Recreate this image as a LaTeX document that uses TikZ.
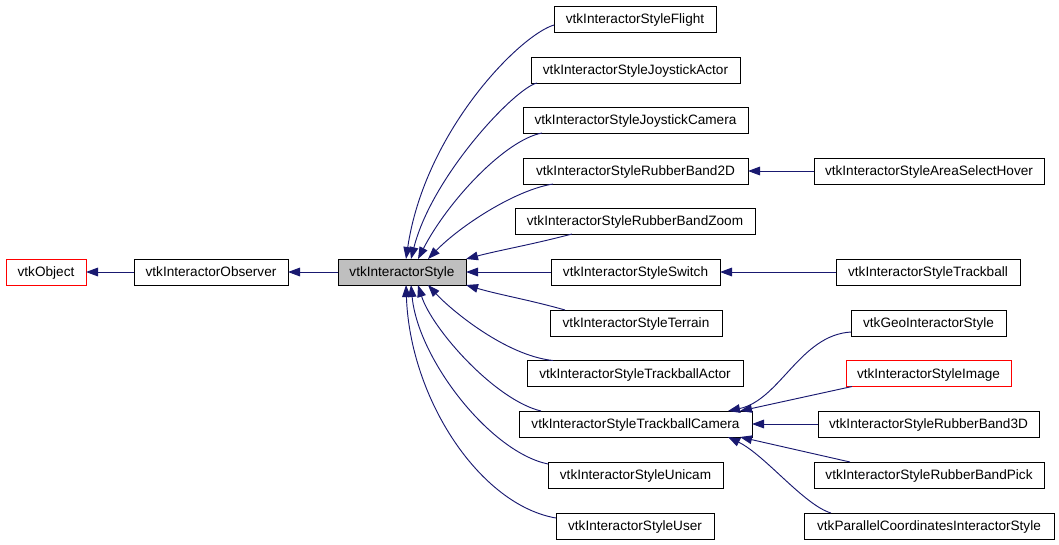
\documentclass[tikz,border=0pt]{standalone}
\usepackage{fontspec}
\setmainfont{Liberation Sans}
\usetikzlibrary{arrows.meta,calc}
\definecolor{edgeblue}{HTML}{191970}

\begin{document}
\begin{tikzpicture}[
    x=0.75pt,
    y=-0.75pt,
    font=\fontsize{10.2}{12}\selectfont,
    text centered,
    every node/.style={
      inner sep=0pt,
      outer sep=0pt,
      text height=7.3pt,
      text depth=0pt
    }
  ]

  \tikzstyle{cls} = [rectangle, draw, line width=0.7pt, minimum height=19.5pt]
  \tikzstyle{undoc} = [cls, draw=red]
  \tikzstyle{focus} = [cls, fill=gray!50]
  \tikzstyle{inherit} = [draw=edgeblue, line width=0.7pt, -{Triangle[length=9pt,width=6.5pt]}]

  \useasboundingbox (0,0) rectangle (1059,544);

  \node [undoc, minimum width=60pt] (object) at (46,272) {vtkObject};
  \node [cls, minimum width=115.5pt] (observer) at (211,272) {vtkInteractorObserver};
  \node [focus, minimum width=96pt] (style) at (402,272) {vtkInteractorStyle};

  \draw [inherit] (observer.west) -- (object.east);
  \draw [inherit] (style.west) -- (observer.east);

  \node [cls, minimum width=121.5pt] (flight) at (635,19) {vtkInteractorStyleFlight};
  \node [cls, minimum width=156.75pt] (joyactor) at (635.5,70) {vtkInteractorStyleJoystickActor};
  \node [cls, minimum width=168.75pt] (joycamera) at (635.5,120) {vtkInteractorStyleJoystickCamera};
  \node [cls, minimum width=168.75pt] (band2d) at (635.5,171) {vtkInteractorStyleRubberBand2D};
  \node [cls, minimum width=180pt] (bandzoom) at (635,221) {vtkInteractorStyleRubberBandZoom};
  \node [cls, minimum width=126.75pt] (switch) at (635.5,272) {vtkInteractorStyleSwitch};
  \node [cls, minimum width=129pt] (terrain) at (636,323) {vtkInteractorStyleTerrain};
  \node [cls, minimum width=162pt] (tbactor) at (635,373.5) {vtkInteractorStyleTrackballActor};
  \node [cls, minimum width=174.75pt] (tbcamera) at (635.5,424) {vtkInteractorStyleTrackballCamera};
  \node [cls, minimum width=131.25pt] (unicam) at (635.5,475) {vtkInteractorStyleUnicam};
  \node [cls, minimum width=118.5pt] (user) at (635,526) {vtkInteractorStyleUser};

  \draw [inherit] ($(flight.west)+(0,6)$) .. controls +(-34,10) and +(19,-128) .. ($(style.north)+(4,0)$);
  \draw [inherit] ($(joyactor.south west)+(6,0)$) .. controls +(-22,5) and +(21,-83) .. ($(style.north)+(9,0)$);
  \draw [inherit] ($(joycamera.south west)+(19,0)$) .. controls +(-37,7) and +(30,-58) .. ($(style.north)+(16,0)$);
  \draw [inherit] ($(band2d.south west)+(30,0)$) .. controls +(-38,6) and +(32,-33) .. ($(style.north)+(26,0)$);
  \draw [inherit] ($(bandzoom.south west)+(57,0)$) .. controls +(-42,11) and +(34,-9) .. (style.north east);
  \draw [inherit] (switch.west) -- (style.east);
  \draw [inherit] ($(terrain.north west)+(15,0)$) .. controls +(-35,-10) and +(34,10) .. (style.south east);
  \draw [inherit] ($(tbactor.north west)+(26,0)$) .. controls +(-48,-5) and +(22,24) .. ($(style.south)+(26,0)$);
  \draw [inherit] ($(tbcamera.north west)+(22,0)$) .. controls +(-46,-11) and +(14,44) .. ($(style.south)+(16,0)$);
  \draw [inherit] ($(unicam.north west)+(0,2)$) .. controls +(-58,-12) and +(7,74) .. ($(style.south)+(9,0)$);
  \draw [inherit] ($(user.north west)+(0,5)$) .. controls +(-76,-13) and +(4,114) .. ($(style.south)+(4,0)$);

  \node [cls, minimum width=172.5pt] (areahover) at (929,171) {vtkInteractorStyleAreaSelectHover};
  \node [cls, minimum width=138pt] (trackball) at (928,272) {vtkInteractorStyleTrackball};
  \node [cls, minimum width=116.25pt] (geo) at (928.5,323) {vtkGeoInteractorStyle};
  \node [undoc, minimum width=123.75pt] (image) at (928.5,373.5) {vtkInteractorStyleImage};
  \node [cls, minimum width=165.75pt] (band3d) at (928.5,424) {vtkInteractorStyleRubberBand3D};
  \node [cls, minimum width=172.5pt] (bandpick) at (929,475) {vtkInteractorStyleRubberBandPick};
  \node [cls, minimum width=187.5pt] (parallel) at (929,526) {vtkParallelCoordinatesInteractorStyle};

  \draw [inherit] (areahover.west) -- (band2d.east);
  \draw [inherit] (trackball.west) -- (switch.east);
  \draw [inherit] ($(geo.west)+(0,9)$) .. controls +(-51,3) and +(52,-11) .. ($(tbcamera.north east)+(-24,0)$);
  \draw [inherit] ($(image.south west)+(6,0)$) -- ($(tbcamera.north east)+(-12,0)$);
  \draw [inherit] (band3d.west) -- (tbcamera.east);
  \draw [inherit] ($(bandpick.north west)+(36,0)$) -- ($(tbcamera.south east)+(-12,0)$);
  \draw [inherit] ($(parallel.north west)+(27,0)$) .. controls +(-27,-8) and +(37,18) .. ($(tbcamera.south east)+(-24,0)$);

\end{tikzpicture}
\end{document}
